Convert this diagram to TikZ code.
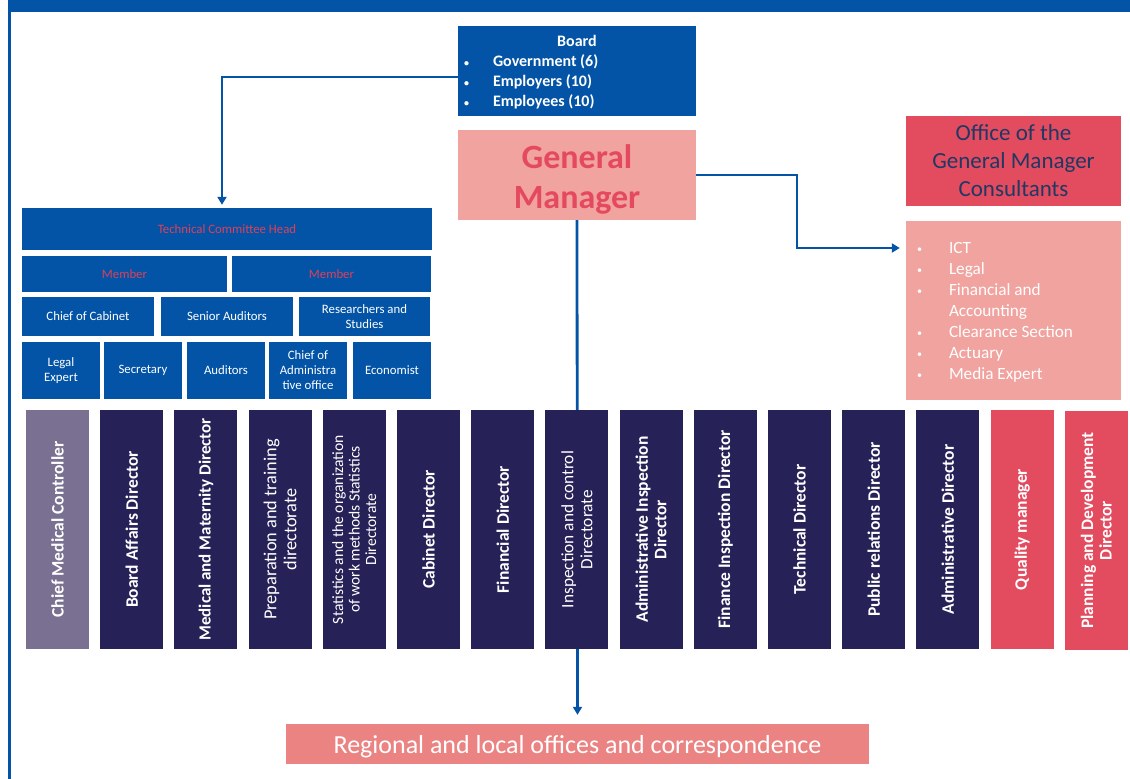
\documentclass[tikz,border=0pt]{standalone}
\usepackage{fontspec}
\setmainfont{Carlito}
\usetikzlibrary{arrows.meta,backgrounds}
\definecolor{cblue}{RGB}{3,84,166}
\definecolor{navy}{RGB}{38,33,87}
\definecolor{mauve}{RGB}{122,112,145}
\definecolor{crim}{RGB}{227,75,95}
\definecolor{pinkb}{RGB}{240,163,159}
\definecolor{salmon}{RGB}{236,131,131}
\definecolor{gmtext}{RGB}{229,73,95}
\definecolor{offtext}{RGB}{31,56,100}
\definecolor{tctext}{RGB}{222,64,90}
\newcommand{\smbul}{{\fontsize{10}{10}\selectfont\raisebox{0.5pt}{•}}}
\tikzset{
  box/.style={draw=none, inner sep=0pt, anchor=center},
  bluebox/.style={box, fill=cblue, text=white, font=\fontsize{12.8}{15}\selectfont, align=center},
  vbar/.style={box, fill=navy, text=white, rotate=90, minimum width=239pt, minimum height=63pt, align=center, font=\fontsize{17.5}{18.5}\selectfont\bfseries},
  arr/.style={draw=cblue, line width=2.8pt, -{Triangle[width=9pt,length=8pt]}},
}
\begin{document}
\begin{tikzpicture}[x=1pt,y=-1pt]
\useasboundingbox (0,0) rectangle (1130,779);
% frame
\fill[cblue] (8,0) rectangle (1130,12);
\draw[cblue, line width=3pt] (9.5,12) -- (9.5,779);

% top
\node[box, fill=cblue, text=white, minimum width=238pt, minimum height=90pt, font=\fontsize{16}{20}\selectfont\bfseries] (board) at (577,71)
  {\raisebox{-1.5pt}[\height][\depth]{\parbox{226pt}{\centering Board\par\raggedright
   \makebox[29pt][l]{\smbul}Government (6)\par
   \makebox[29pt][l]{\smbul}Employers (10)\par
   \makebox[29pt][l]{\smbul}Employees (10)}}};
\node[box, fill=pinkb, text=gmtext, minimum width=238pt, minimum height=90pt, font=\fontsize{34}{40}\selectfont\bfseries] (gm) at (577,175)
  {\raisebox{-5pt}[\height][\depth]{\begin{tabular}{@{}c@{}}General\\Manager\end{tabular}}};

\node[box, fill=crim, text=offtext, minimum width=215pt, minimum height=90pt, align=center, font=\fontsize{23}{28}\selectfont] (office) at (1013.5,161) {Office of the\\General Manager\\Consultants};
\node[box, fill=pinkb, text=white, minimum width=215pt, minimum height=179pt, font=\fontsize{17.2}{21}\selectfont] (list) at (1013.5,310.5)
  {\raisebox{-1.5pt}[\height][\depth]{\parbox{193pt}{\raggedright
   \makebox[32pt][l]{\smbul}ICT\par
   \makebox[32pt][l]{\smbul}Legal\par
   \makebox[32pt][l]{\smbul}Financial and\par
   \hspace*{32pt}Accounting\par
   \makebox[32pt][l]{\smbul}Clearance Section\par
   \makebox[32pt][l]{\smbul}Actuary\par
   \makebox[32pt][l]{\smbul}Media Expert}}};

% technical committee
\node[bluebox, text=tctext, minimum width=410pt, minimum height=42pt] (tch) at (227,229) {Technical Committee Head};
\node[bluebox, text=tctext, minimum width=205pt, minimum height=36pt] (m1) at (124.5,274) {Member};
\node[bluebox, text=tctext, minimum width=199pt, minimum height=36pt] (m2) at (331.5,274) {Member};
\node[bluebox, minimum width=132pt, minimum height=39pt] (coc) at (88,316.5) {Chief of Cabinet};
\node[bluebox, minimum width=132pt, minimum height=39pt] (sa) at (227,316.5) {Senior Auditors};
\node[bluebox, minimum width=131pt, minimum height=39pt] (rs) at (364.5,316.5) {Researchers and\\Studies};
\node[bluebox, minimum width=78pt, minimum height=57pt] (le) at (61,370.5) {Legal\\Expert};
\node[bluebox, minimum width=78pt, minimum height=57pt] (sec) at (143,370.5) {Secretary};
\node[bluebox, minimum width=78pt, minimum height=57pt] (aud) at (226,370.5) {Auditors};
\node[bluebox, minimum width=78pt, minimum height=57pt] (cao) at (308,370.5) {Chief of\\Administra\\tive office};
\node[bluebox, minimum width=78pt, minimum height=57pt] (eco) at (392,370.5) {Economist};

% bars
\node[vbar, fill=mauve] (b1) at (57.5,529.5) {Chief Medical Controller};
\node[vbar] (b2) at (131.7,529.5) {Board Affairs Director};
\node[vbar, font=\fontsize{17}{18.5}\selectfont\bfseries] (b3) at (205.9,529.5) {Medical and Maternity Director};
\node[vbar, font=\fontsize{18.3}{20}\selectfont] (b4) at (280.1,529.5) {Preparation and training\\directorate};
\node[vbar, font=\fontsize{15.6}{16.5}\selectfont] (b5) at (354.3,529.5) {Statistics and the organization\\of work methods Statistics\\Directorate};
\node[vbar] (b6) at (428.5,529.5) {Cabinet Director};
\node[vbar] (b7) at (502.7,529.5) {Financial Director};
\node[vbar, font=\fontsize{17.3}{19}\selectfont] (b8) at (576.9,529.5) {Inspection and control\\Directorate};
\node[vbar] (b9) at (651.1,529.5) {Administrative Inspection\\Director};
\node[vbar] (b10) at (725.3,529.5) {Finance Inspection Director};
\node[vbar] (b11) at (799.5,529.5) {Technical Director};
\node[vbar] (b12) at (873.7,529.5) {Public relations Director};
\node[vbar] (b13) at (947.9,529.5) {Administrative Director};
\node[vbar, fill=crim] (b14) at (1022.1,529.5) {Quality manager};
\node[vbar, fill=crim] (b15) at (1096.3,530.5) {Planning and Development\\Director};

\node[box, fill=salmon, text=white, minimum width=583pt, minimum height=40pt, font=\fontsize{26}{30}\selectfont] (reg) at (577.5,744) {\raisebox{-2.5pt}[\height][\depth]{Regional and local offices and correspondence}};

% connectors
\draw[arr] ([yshift=-6pt]board.west) -| ([xshift=-5pt,yshift=3pt]tch.north);
\draw[arr] (gm.east) -- (797,175) |- ([xshift=-6pt,yshift=62.5pt]list.west);
\begin{pgfonlayer}{background}
\draw[arr, shorten >=9pt] (gm.south) -- (reg.north);
\end{pgfonlayer}
\end{tikzpicture}
\end{document}
